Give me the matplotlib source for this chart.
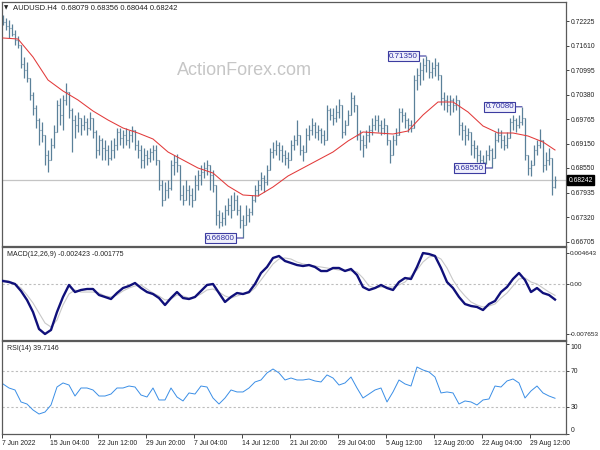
import numpy as np
import matplotlib
matplotlib.use("Agg")
import matplotlib.pyplot as plt
import matplotlib.transforms as mtransforms

plt.rcParams['font.family'] = ['Liberation Sans', 'DejaVu Sans']

# ---------------- data ----------------
header = "AUDUSD.H4  0.68079 0.68356 0.68044 0.68242"
first_open = 0.72250
highs = [0.72375, 0.72300, 0.72250, 0.72150, 0.72000, 0.71850, 0.71500, 0.71325, 0.71200, 0.70800,
         0.70450, 0.70125, 0.69800, 0.69700, 0.69375, 0.69000, 0.69300, 0.69625, 0.70250, 0.70300,
         0.70375, 0.70675, 0.70450, 0.70050, 0.69875, 0.69950, 0.69800, 0.69875, 0.69800, 0.69950,
         0.69800, 0.69500, 0.69375, 0.69300, 0.69250, 0.69125, 0.69250, 0.69300, 0.69550, 0.69550,
         0.69500, 0.69550, 0.69500, 0.69600, 0.69450, 0.69250, 0.69125, 0.69050, 0.69000, 0.69050,
         0.69125, 0.69125, 0.68750, 0.68250, 0.68200, 0.68250, 0.68750, 0.68875, 0.68900, 0.68500,
         0.68125, 0.68250, 0.68125, 0.68050, 0.68375, 0.68500, 0.68625, 0.68700, 0.68750, 0.68550,
         0.68500, 0.67750, 0.67500, 0.67450, 0.67625, 0.67800, 0.67875, 0.67950, 0.67875, 0.67625,
         0.67375, 0.67625, 0.67550, 0.67875, 0.68125, 0.68250, 0.68450, 0.68375, 0.68625, 0.69050,
         0.69200, 0.69250, 0.69200, 0.69125, 0.69000, 0.68950, 0.69250, 0.69375, 0.69750, 0.69375,
         0.69125, 0.69550, 0.69625, 0.69800, 0.69700, 0.69625, 0.69550, 0.69500, 0.70125, 0.70050,
         0.70050, 0.70125, 0.70275, 0.69875, 0.69750, 0.70000, 0.70450, 0.70375, 0.69800, 0.69500,
         0.69375, 0.69500, 0.69625, 0.69800, 0.69875, 0.69875, 0.69750, 0.69800, 0.69550, 0.69125,
         0.69375, 0.69550, 0.70050, 0.70050, 0.69950, 0.69800, 0.69750, 0.70875, 0.71050, 0.71200,
         0.71300, 0.71350, 0.71250, 0.71200, 0.71300, 0.71200, 0.70750, 0.70450, 0.70375, 0.70375,
         0.70300, 0.70375, 0.69950, 0.69700, 0.69625, 0.69550, 0.69300, 0.69250, 0.69125, 0.69000,
         0.68875, 0.69000, 0.69125, 0.69050, 0.69450, 0.69550, 0.69500, 0.69375, 0.69450, 0.69800,
         0.69875, 0.69800, 0.69875, 0.70080, 0.69250, 0.68875, 0.68750, 0.69125, 0.69250, 0.69525,
         0.69000, 0.68950, 0.69050, 0.68550, 0.68356]
lows = [0.72125, 0.72000, 0.71800, 0.71850, 0.71625, 0.71550, 0.71050, 0.70800, 0.70700, 0.70250,
        0.69875, 0.69550, 0.69125, 0.69200, 0.68625, 0.68450, 0.68800, 0.69050, 0.69500, 0.69625,
        0.69500, 0.70125, 0.69800, 0.68950, 0.69300, 0.69450, 0.69375, 0.69500, 0.69375, 0.69500,
        0.69300, 0.68800, 0.68875, 0.68750, 0.68750, 0.68625, 0.68750, 0.68800, 0.69000, 0.69125,
        0.69050, 0.69125, 0.69050, 0.69200, 0.69000, 0.68800, 0.68550, 0.68550, 0.68625, 0.68700,
        0.68750, 0.68625, 0.68000, 0.67600, 0.67750, 0.67800, 0.68000, 0.68375, 0.68450, 0.67750,
        0.67625, 0.67750, 0.67625, 0.67575, 0.67875, 0.68000, 0.68125, 0.68300, 0.68375, 0.68000,
        0.67950, 0.67125, 0.67050, 0.67100, 0.67125, 0.67375, 0.67300, 0.67500, 0.67375, 0.67050,
        0.66800, 0.67125, 0.67200, 0.67375, 0.67700, 0.67850, 0.68000, 0.67950, 0.68125, 0.68625,
        0.68800, 0.68875, 0.68750, 0.68700, 0.68625, 0.68550, 0.68750, 0.69000, 0.69125, 0.68875,
        0.68725, 0.69050, 0.69250, 0.69375, 0.69300, 0.69250, 0.69175, 0.69125, 0.69625, 0.69750,
        0.69625, 0.69700, 0.69800, 0.69300, 0.69375, 0.69625, 0.70000, 0.69950, 0.69250, 0.69000,
        0.68825, 0.69050, 0.69200, 0.69375, 0.69500, 0.69450, 0.69375, 0.69400, 0.69125, 0.68675,
        0.69000, 0.69125, 0.69625, 0.69700, 0.69550, 0.69450, 0.69450, 0.69550, 0.70500, 0.70625,
        0.70750, 0.70950, 0.70800, 0.70800, 0.70850, 0.70750, 0.70125, 0.70000, 0.69950, 0.69875,
        0.69950, 0.70000, 0.69375, 0.69250, 0.69125, 0.69250, 0.68875, 0.68800, 0.68700, 0.68625,
        0.68600, 0.68650, 0.68750, 0.68550, 0.69000, 0.69200, 0.69050, 0.69000, 0.69050, 0.69375,
        0.69500, 0.69450, 0.69550, 0.69625, 0.68750, 0.68375, 0.68350, 0.68700, 0.68875, 0.69050,
        0.68450, 0.68500, 0.68625, 0.67875, 0.68044]
closes = [0.72200, 0.72100, 0.72050, 0.71900, 0.71750, 0.71625, 0.71150, 0.71000, 0.70800, 0.70375,
          0.70050, 0.69750, 0.69500, 0.69375, 0.68875, 0.68750, 0.69125, 0.69450, 0.70125, 0.69875,
          0.70250, 0.70450, 0.70000, 0.69750, 0.69625, 0.69800, 0.69625, 0.69700, 0.69550, 0.69800,
          0.69450, 0.69000, 0.69250, 0.69050, 0.69000, 0.68800, 0.69000, 0.69125, 0.69450, 0.69300,
          0.69375, 0.69250, 0.69375, 0.69500, 0.69125, 0.69000, 0.68750, 0.68875, 0.68800, 0.68950,
          0.69000, 0.68750, 0.68125, 0.67750, 0.68000, 0.68050, 0.68625, 0.68700, 0.68625, 0.67875,
          0.67750, 0.68000, 0.67875, 0.67750, 0.68125, 0.68375, 0.68450, 0.68550, 0.68625, 0.68375,
          0.68125, 0.67375, 0.67200, 0.67300, 0.67500, 0.67625, 0.67500, 0.67750, 0.67500, 0.67250,
          0.67125, 0.67375, 0.67450, 0.67750, 0.68000, 0.68125, 0.68300, 0.68200, 0.68500, 0.68950,
          0.69000, 0.69125, 0.69000, 0.68875, 0.68800, 0.68750, 0.69125, 0.69250, 0.69375, 0.69000,
          0.68950, 0.69375, 0.69500, 0.69625, 0.69450, 0.69500, 0.69375, 0.69250, 0.70000, 0.69875,
          0.69800, 0.69950, 0.70125, 0.69450, 0.69625, 0.69875, 0.70300, 0.70125, 0.69375, 0.69250,
          0.69125, 0.69375, 0.69500, 0.69625, 0.69750, 0.69625, 0.69550, 0.69625, 0.69250, 0.68875,
          0.69250, 0.69375, 0.69950, 0.69875, 0.69750, 0.69625, 0.69550, 0.70750, 0.70875, 0.71000,
          0.71125, 0.71250, 0.70950, 0.71050, 0.71125, 0.70875, 0.70300, 0.70250, 0.70125, 0.70250,
          0.70125, 0.70250, 0.69625, 0.69500, 0.69375, 0.69450, 0.69125, 0.69050, 0.68875, 0.68750,
          0.68700, 0.68875, 0.69000, 0.68800, 0.69250, 0.69375, 0.69250, 0.69125, 0.69300, 0.69700,
          0.69750, 0.69625, 0.69700, 0.69800, 0.68875, 0.68550, 0.68625, 0.69000, 0.69125, 0.69250,
          0.68625, 0.68750, 0.68800, 0.68079, 0.68242]
# moving average, read every 5th bar and at the last bar
ma_values = [0.71800, 0.71775, 0.71325, 0.70750, 0.70475, 0.70250, 0.69975, 0.69750, 0.69550, 0.69425,
             0.69275, 0.68950, 0.68750, 0.68550, 0.68425, 0.68100, 0.67875, 0.67850, 0.68075, 0.68350,
             0.68550, 0.68750, 0.68950, 0.69225, 0.69450, 0.69425, 0.69400, 0.69475, 0.69875, 0.70200,
             0.70200, 0.69950, 0.69600, 0.69425, 0.69425, 0.69350, 0.69200, 0.69000]
# indicators, read every 2nd bar
macd_main = [0.00039, 0.00024, -0.00006, -0.00112, -0.00249, -0.00431, -0.00689, -0.00765, -0.00704, -0.00431,
             -0.00203, -0.00021, -0.00128, -0.00097, -0.00082, -0.00082, -0.00173, -0.00203, -0.00234, -0.00143,
             -0.00067, -0.00036, 0.00009, -0.00067, -0.00128, -0.00158, -0.00219, -0.00325, -0.00219, -0.00128,
             -0.00219, -0.00234, -0.00203, -0.00112, -0.00021, -0.00006, -0.00143, -0.00279, -0.00203, -0.00143,
             -0.00158, -0.00128, -0.00006, 0.00161, 0.00252, 0.00389, 0.00419, 0.00343, 0.00313, 0.00282,
             0.00267, 0.00282, 0.00252, 0.00191, 0.00191, 0.00237, 0.00237, 0.00191, 0.00222, 0.00131,
             -0.00052, -0.00097, -0.00067, -0.00021, -0.00067, -0.00097, 0.00024, 0.00085, 0.00070, 0.00252,
             0.00464, 0.00449, 0.00419, 0.00237, 0.00024, -0.00067, -0.00203, -0.00310, -0.00340, -0.00355,
             -0.00401, -0.00310, -0.00264, -0.00128, -0.00052, 0.00070, 0.00161, 0.00055, -0.00128, -0.00067,
             -0.00143, -0.00173, -0.00242]
macd_signal = [0.00055, 0.00039, -0.00006, -0.00067, -0.00173, -0.00294, -0.00446, -0.00598, -0.00659, -0.00553,
               -0.00325, -0.00158, -0.00097, -0.00128, -0.00128, -0.00128, -0.00143, -0.00188, -0.00203, -0.00173,
               -0.00112, -0.00067, -0.00036, -0.00021, -0.00082, -0.00143, -0.00188, -0.00249, -0.00234, -0.00173,
               -0.00188, -0.00219, -0.00203, -0.00158, -0.00097, -0.00082, -0.00128, -0.00188, -0.00219, -0.00188,
               -0.00158, -0.00143, -0.00067, 0.00055, 0.00176, 0.00298, 0.00373, 0.00389, 0.00373, 0.00328,
               0.00298, 0.00282, 0.00267, 0.00252, 0.00237, 0.00222, 0.00206, 0.00206, 0.00191, 0.00176,
               0.00085, -0.00036, -0.00067, -0.00052, -0.00052, -0.00052, -0.00021, 0.00024, 0.00115, 0.00206,
               0.00328, 0.00404, 0.00419, 0.00373, 0.00237, 0.00055, -0.00082, -0.00188, -0.00279, -0.00325,
               -0.00355, -0.00340, -0.00310, -0.00219, -0.00143, -0.00036, 0.00070, 0.00085, 0.00024, -0.00006,
               -0.00067, -0.00128, -0.00178]
rsi_values = [55.6, 51.1, 48.9, 35.6, 33.3, 26.7, 22.2, 24.4, 32.2, 52.2,
              56.7, 54.4, 42.2, 51.1, 51.1, 48.9, 42.2, 42.2, 44.4, 51.1,
              51.1, 53.3, 52.2, 43.3, 41.1, 51.1, 37.8, 37.8, 51.1, 41.1,
              36.7, 45.6, 44.4, 53.3, 52.2, 40.0, 33.3, 40.0, 48.9, 46.7,
              46.7, 51.1, 57.8, 60.0, 67.8, 72.2, 67.8, 60.0, 62.2, 60.0,
              60.0, 61.1, 58.9, 57.8, 65.6, 62.2, 54.4, 56.7, 63.3, 51.1,
              40.0, 44.4, 48.9, 51.1, 35.6, 46.7, 60.0, 55.6, 53.3, 74.4,
              71.1, 68.9, 63.3, 45.6, 46.7, 45.6, 33.3, 36.7, 35.6, 32.2,
              37.8, 38.9, 53.3, 52.2, 58.9, 61.1, 56.7, 40.0, 47.8, 53.3,
              45.6, 42.2, 39.7]
price_ticks = [0.72225, 0.71610, 0.70995, 0.70380, 0.69765, 0.69150, 0.68550, 0.67935, 0.67320, 0.66705]
macd_ticks = [0.004643, 0.0, -0.007653]
macd_tick_labels = ["0.004643", "0.00", "-0.007653"]
rsi_ticks = [100, 70, 30, 0]
x_labels = ["7 Jun 2022", "15 Jun 04:00", "22 Jun 12:00", "29 Jun 20:00", "7 Jul 04:00", "14 Jul 12:00",
            "21 Jul 20:00", "29 Jul 04:00", "5 Aug 12:00", "12 Aug 20:00", "22 Aug 04:00", "29 Aug 12:00"]
annotations = [(141, 0.71350, "0.71350"), (173, 0.70080, "0.70080"),
               (163, 0.68550, "0.68550"), (80, 0.66800, "0.66800")]
last_price = 0.68242
macd_title = "MACD(12,26,9) -0.002423 -0.001775"
rsi_title = "RSI(14) 39.7146"

# ---------------- figure ----------------
W, H = 600, 450
fig = plt.figure(figsize=(6, 4.5), dpi=100)
fig.patch.set_facecolor('white')

def axrect(top, bottom, left=2, right=566):
    return [left / W, 1 - bottom / H, (right - left) / W, (bottom - top) / H]

ax_p = fig.add_axes(axrect(2, 246))
ax_m = fig.add_axes(axrect(247, 340))
ax_r = fig.add_axes(axrect(341, 434))

n = len(closes)
x = np.arange(n)
xlim = (-1 / 3, 187.67)
spine_c = '#5a5a5a'
lab_fs = 4.9

for ax in (ax_p, ax_m, ax_r):
    ax.set_xlim(*xlim)
    ax.yaxis.tick_right()
    for s in ax.spines.values():
        s.set_color(spine_c)
        s.set_linewidth(0.9)
    ax.tick_params(axis='y', which='both', direction='out', length=2, width=0.6,
                   labelsize=lab_fs, pad=1.2, colors='#222222')
    ax.set_facecolor('white')

# ---- price panel ----
bar_c = '#5a8099'
hi = np.array(highs)
lo = np.array(lows)
cl = np.array(closes)
op = np.r_[first_open, cl[:-1]]
top = np.maximum(hi, np.maximum(op, cl))
bot = np.minimum(lo, np.minimum(op, cl))
ax_p.set_ylim(0.6660, 0.7270)
ax_p.text(0.31, 0.72, "ActionForex.com", transform=ax_p.transAxes, fontsize=13,
          color='#c6c6c6', ha='left', va='center', zorder=0)
ax_p.axhline(last_price, color='#c4c4c4', lw=0.9, zorder=1)
ax_p.vlines(x, bot, top, color=bar_c, lw=0.9, zorder=2)
ax_p.hlines(op, x - 0.45, x, color=bar_c, lw=0.8, zorder=2)
ax_p.hlines(cl, x, x + 0.45, color=bar_c, lw=0.8, zorder=2)
ma_x = np.r_[np.arange(0, 181, 5), n - 1]
ax_p.plot(ma_x, ma_values, color='#e23a3a', lw=0.75, zorder=3)
ax_p.set_yticks(price_ticks)
ax_p.set_yticklabels([f"{t:.5f}" for t in price_ticks])
ax_p.set_xticks([])

for bar, price, txt in annotations:
    ax_p.annotate(txt, xy=(bar, price), xytext=(-8, 0), textcoords='offset pixels',
                  ha='right', va='center', fontsize=5.8, color='#2c2ca0',
                  bbox=dict(boxstyle='square,pad=0.15', fc='#f0f0fc', ec='#3c3ca0', lw=0.8),
                  arrowprops=dict(arrowstyle='-', color='#3c3ca0', lw=0.8, shrinkA=0, shrinkB=0),
                  zorder=5)

trans_p = mtransforms.blended_transform_factory(ax_p.transAxes, ax_p.transData)
ax_p.text(1.004, last_price, "0.68242", transform=trans_p, ha='left', va='center',
          fontsize=lab_fs, color='white',
          bbox=dict(boxstyle='square,pad=0.2', fc='black', ec='black'), zorder=6, clip_on=False)

fig.text(6 / W, 1 - 8 / H, "\u25bc", fontsize=4, ha='center', va='center', color='#222222',
         family=['DejaVu Sans'])
fig.text(13 / W, 1 - 8 / H, header, fontsize=5.5, ha='left', va='center', color='#222222')

# ---- MACD panel ----
ind_x = np.arange(len(macd_main)) * 2
ax_m.set_ylim(-0.008561, 0.005556)
ax_m.axhline(0, color='#bdbdbd', lw=0.8, ls=(0, (2, 2)), zorder=1)
ax_m.plot(ind_x, macd_signal, color='#c8c8c8', lw=0.8, zorder=2)
ax_m.plot(ind_x, macd_main, color='#10107a', lw=1.7, zorder=3)
ax_m.set_yticks(macd_ticks)
ax_m.set_yticklabels(macd_tick_labels)
ax_m.tick_params(axis='y', labelsize=4.6, pad=1.0)
ax_m.set_xticks([])
ax_m.text(5 / 564, 1 - 8 / 93, macd_title, transform=ax_m.transAxes, fontsize=5,
          ha='left', va='center', color='#222222')

# ---- RSI panel ----
ax_r.set_ylim(0, 103.3)
for lvl in (70, 30):
    ax_r.axhline(lvl, color='#bdbdbd', lw=0.8, ls=(0, (2, 2)), zorder=1)
ax_r.plot(ind_x[:len(rsi_values)], rsi_values, color='#3a8ee6', lw=0.7, zorder=2)
ax_r.set_yticks(rsi_ticks)
ax_r.set_yticklabels([str(t) for t in rsi_ticks])
for lab, t in zip(ax_r.get_yticklabels(), rsi_ticks):
    if t == 0:
        lab.set_va('bottom')
    elif t == 100:
        lab.set_va('top')
ax_r.text(5 / 564, 1 - 7 / 93, rsi_title, transform=ax_r.transAxes, fontsize=5,
          ha='left', va='center', color='#222222')

tick_pos = np.arange(len(x_labels)) * 16 - 1 / 3
ax_r.set_xticks(tick_pos)
ax_r.set_xticklabels(x_labels)
for lab in ax_r.get_xticklabels():
    lab.set_ha('left')
ax_r.tick_params(axis='x', direction='out', length=3, width=0.6, labelsize=lab_fs,
                 pad=1.5, colors='#222222')
ax_r.set_xlim(*xlim)

fig.savefig("out.png", dpi=100, facecolor='white')
